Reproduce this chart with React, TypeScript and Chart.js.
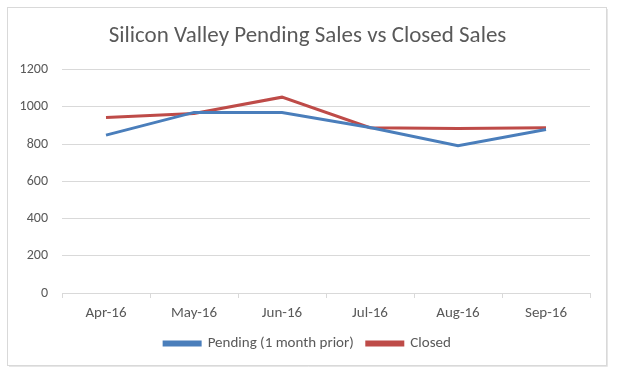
import React, { useEffect, useRef } from "react";
import { Chart, registerables } from "chart.js";

Chart.register(...registerables);

const categories = ["Apr-16", "May-16", "Jun-16", "Jul-16", "Aug-16", "Sep-16"];
const pendingValues = [848, 970, 970, 889, 791, 878];
const closedValues = [943, 964, 1052, 888, 883, 887];
const yTicks = [0, 200, 400, 600, 800, 1000, 1200];

const FONT = "Calibri, Carlito, Lato, sans-serif";
const GRAY = "#595959";

const framePlugin = {
  id: "frame",
  beforeDraw(chart: any) {
    const ctx = chart.ctx;
    ctx.save();
    ctx.fillStyle = "#ffffff";
    ctx.fillRect(0, 0, chart.width, chart.height);
    ctx.strokeStyle = "#d9d9d9";
    ctx.lineWidth = 1;
    ctx.strokeRect(7.5, 7.5, 599, 358);
    ctx.strokeStyle = "#e6e6e6";
    ctx.beginPath();
    ctx.moveTo(607.5, 9);
    ctx.lineTo(607.5, 366.5);
    ctx.lineTo(9, 366.5);
    ctx.stroke();
    ctx.restore();
  },
};

export default function App() {
  const ref = useRef<HTMLCanvasElement>(null);
  useEffect(() => {
    document.body.style.margin = "0";
    const chart = new Chart(ref.current!, {
      type: "line",
      data: {
        labels: categories,
        datasets: [
          {
            label: "Pending (1 month prior)",
            data: pendingValues,
            borderColor: "#4A7EBB",
            backgroundColor: "#4A7EBB",
            borderWidth: 3,
            pointRadius: 0,
            tension: 0,
          },
          {
            label: "Closed",
            data: closedValues,
            borderColor: "#BE4B48",
            backgroundColor: "#BE4B48",
            borderWidth: 3,
            pointRadius: 0,
            tension: 0,
          },
        ],
      },
      options: {
        animation: false,
        responsive: false,
        layout: { padding: { top: 0, left: 0, right: 3, bottom: 16 } },
        plugins: {
          title: {
            display: true,
            text: "Silicon Valley Pending Sales vs Closed Sales",
            color: GRAY,
            font: { family: FONT, size: 23, weight: "normal" },
            padding: { top: 22, bottom: 20 },
          },
          legend: {
            position: "bottom",
            labels: {
              color: GRAY,
              font: { family: FONT, size: 15 },
              boxWidth: 36,
              boxHeight: 3,
              padding: 13,
            },
          },
          tooltip: { enabled: false },
        },
        scales: {
          x: {
            offset: true,
            grid: {
              offset: true,
              drawOnChartArea: false,
              drawTicks: true,
              tickLength: 5,
              color: "#d9d9d9",
            },
            border: { color: "#d9d9d9" },
            ticks: { color: GRAY, font: { family: FONT, size: 15 }, padding: 6 },
            afterFit: (scale: any) => {
              scale.height = 30;
            },
          },
          y: {
            min: 0,
            max: 1200,
            afterBuildTicks: (scale: any) => {
              scale.ticks = yTicks.map((v) => ({ value: v }));
            },
            afterFit: (scale: any) => {
              scale.width = 62;
            },
            grid: { color: "#d9d9d9", drawTicks: false },
            border: { display: false },
            ticks: {
              color: GRAY,
              font: { family: FONT, size: 14 },
              padding: 14,
              callback: (v: any) => String(v),
            },
          },
          spacer: {
            type: "linear",
            position: "right",
            display: true,
            grid: { display: false, drawOnChartArea: false },
            border: { display: false },
            ticks: { display: false },
            afterFit: (scale: any) => {
              scale.width = 25;
            },
          },
        },
      },
      plugins: [framePlugin],
    } as any);
    return () => chart.destroy();
  }, []);
  return (
    <div style={{ width: 618, height: 377 }}>
      <canvas ref={ref} width={618} height={377} />
    </div>
  );
}
